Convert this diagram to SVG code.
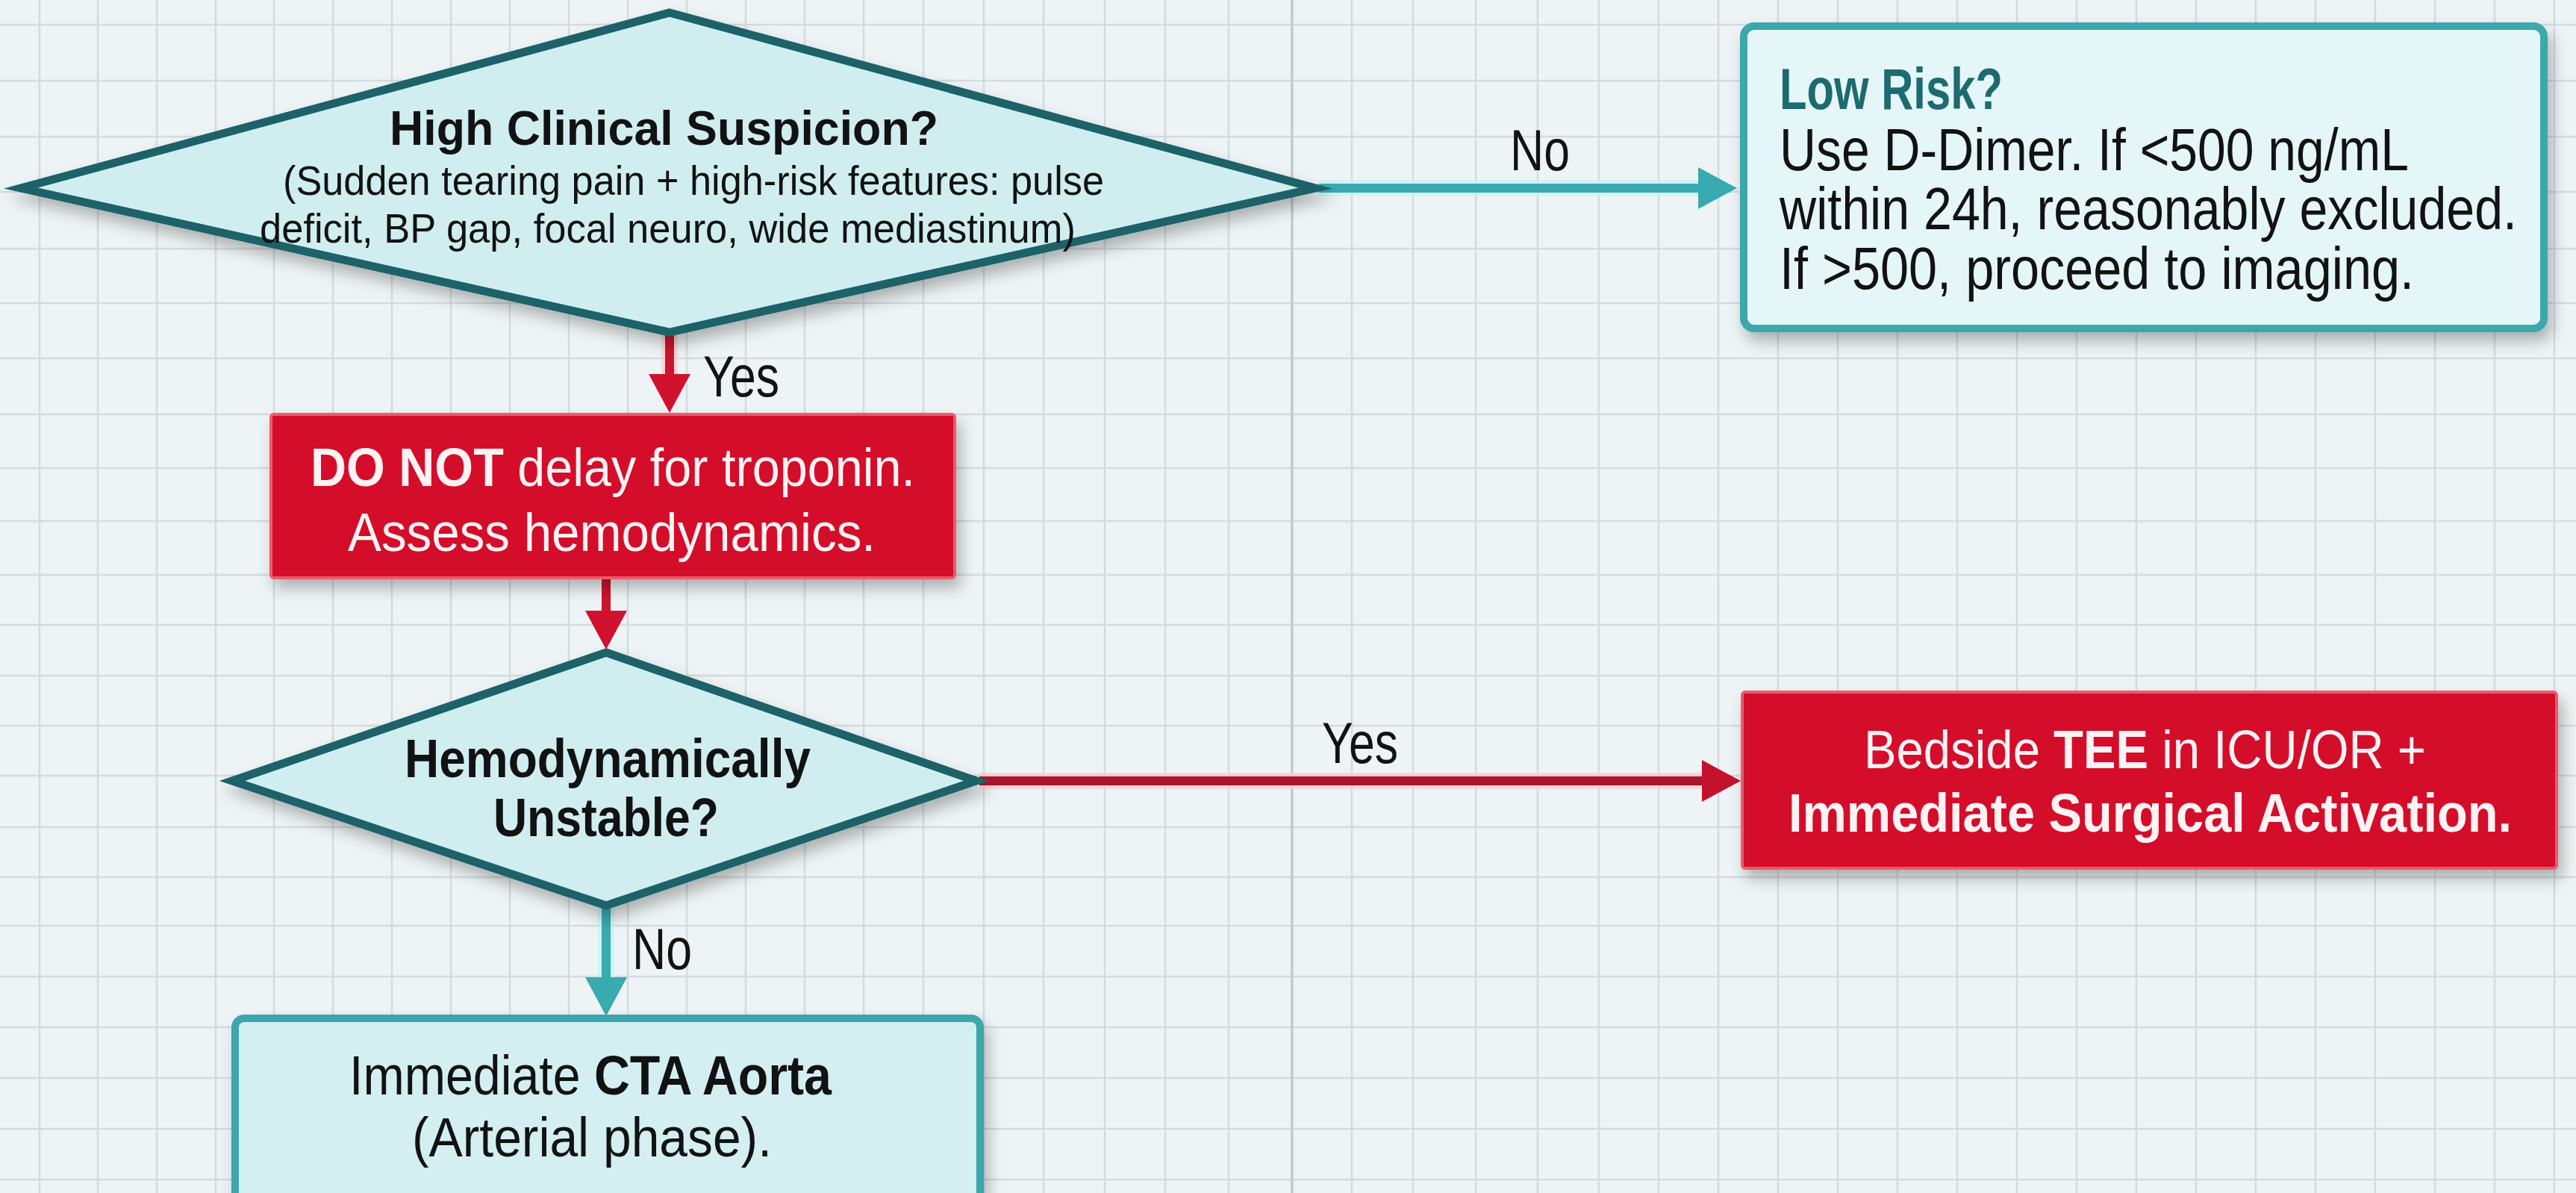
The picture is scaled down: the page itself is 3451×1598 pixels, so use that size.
<svg xmlns="http://www.w3.org/2000/svg" width="3451" height="1598" viewBox="0 0 3451 1598">
<defs>
<style>
.t{font-family:"Liberation Sans Narrow","Liberation Sans",Arial,sans-serif;fill:#121212}
.b{font-weight:bold}
.w{fill:#fff2f3}
.lab{font-size:78px}
.dia{fill:#d0eef0;stroke:#1c6268;stroke-width:11;stroke-linejoin:miter;stroke-miterlimit:30}
.tbox{fill:#e4f6f7;stroke:#3ba8ad;stroke-width:10}
.rbox{fill:#d40d2a;stroke:#ec5a6c;stroke-width:4}
.grid{stroke:#d4dbde;stroke-width:2.5;fill:none}
.tl{stroke:#38aab0;stroke-width:12;fill:none}
.tlg{stroke:#c9f2f4;stroke-width:22;fill:none;opacity:0.7}
.rl{stroke:#cc1430;stroke-width:12;fill:none}
.rl2{stroke:#a8162f;stroke-width:12;fill:none}
.rlg{stroke:#ffc9cf;stroke-width:22;fill:none;opacity:0.7}
</style>
<filter id="sh" x="-10%" y="-10%" width="120%" height="130%">
<feDropShadow dx="6" dy="12" stdDeviation="10" flood-color="#000" flood-opacity="0.28"/>
</filter>
<marker id="ht" markerUnits="userSpaceOnUse" markerWidth="54" markerHeight="56" refX="10" refY="28" orient="auto">
<path d="M0,0 L52,28 L0,56 z" fill="#38aab0"/>
</marker>
<marker id="hr" markerUnits="userSpaceOnUse" markerWidth="54" markerHeight="56" refX="10" refY="28" orient="auto">
<path d="M0,0 L52,28 L0,56 z" fill="#d0122e"/>
</marker>
<marker id="hr2" markerUnits="userSpaceOnUse" markerWidth="54" markerHeight="56" refX="10" refY="28" orient="auto">
<path d="M0,0 L52,28 L0,56 z" fill="#c4122d"/>
</marker>
</defs>
<rect width="3451" height="1598" fill="#eef4f5"/>
<g id="grid">
<path class="grid" d="M53 0V1598M131 0V1598M210 0V1598M289 0V1598M367 0V1598M446 0V1598M525 0V1598M604 0V1598M683 0V1598M762 0V1598M841 0V1598M920 0V1598M999 0V1598M1078 0V1598M1157 0V1598M1237 0V1598M1318 0V1598M1398 0V1598M1480 0V1598M1561 0V1598M1646 0V1598M1811 0V1598M1893 0V1598M1977 0V1598M2060 0V1598M2142 0V1598M2222 0V1598M2302 0V1598M2382 0V1598M2462 0V1598M2542 0V1598M2622 0V1598M2702 0V1598M2782 0V1598M2862 0V1598M2942 0V1598M3022 0V1598M3102 0V1598M3182 0V1598M3262 0V1598M3342 0V1598M3422 0V1598"/>
<path class="grid" d="M0 33H3451M0 108H3451M0 183H3451M0 257H3451M0 333H3451M0 406H3451M0 480H3451M0 555H3451M0 627H3451M0 698H3451M0 770H3451M0 837H3451M0 905H3451M0 972H3451M0 1039H3451M0 1108H3451M0 1175H3451M0 1240H3451M0 1308H3451M0 1376H3451M0 1444H3451M0 1512H3451M0 1580H3451"/>
<path d="M1731 0V1598" stroke="#c3cacd" stroke-width="3.5"/>
</g>
<g id="connectors">
<path class="tlg" d="M1767 252H2290"/>
<path class="tl" d="M1767 252H2285" marker-end="url(#ht)"/>
<path class="rlg" d="M897 447V515"/>
<path class="rl" d="M897 447V511" marker-end="url(#hr)"/>
<path class="rl" d="M812 775V828" marker-end="url(#hr)"/>
<path class="rlg" d="M1312 1046H2292"/>
<path class="rl2" d="M1312 1046H2290" marker-end="url(#hr2)"/>
<path class="tlg" d="M812 1215V1322"/>
<path class="tl" d="M812 1215V1319" marker-end="url(#ht)"/>
<text class="t lab" x="2023" y="228" textLength="80" lengthAdjust="spacingAndGlyphs">No</text>
<text class="t lab" x="942" y="531" textLength="102" lengthAdjust="spacingAndGlyphs">Yes</text>
<text class="t lab" x="1771" y="1022" textLength="102" lengthAdjust="spacingAndGlyphs">Yes</text>
<text class="t lab" x="847" y="1298" textLength="80" lengthAdjust="spacingAndGlyphs">No</text>
</g>
<g id="n1">
<polygon class="dia" filter="url(#sh)" points="897,17 1762,252 897,445 28,252"/>
<text class="t b" x="522" y="194" font-size="64" textLength="735" lengthAdjust="spacingAndGlyphs">High Clinical Suspicion?</text>
<text class="t" x="379" y="261" font-size="56" textLength="1100" lengthAdjust="spacingAndGlyphs">(Sudden tearing pain + high-risk features: pulse</text>
<text class="t" x="348" y="325" font-size="56" textLength="1093" lengthAdjust="spacingAndGlyphs">deficit, BP gap, focal neuro, wide mediastinum)</text>
</g>
<g id="n2">
<rect class="tbox" filter="url(#sh)" x="2336" y="35" width="1072" height="405" rx="14"/>
<text class="t b" x="2384" y="146" font-size="78" style="fill:#1d6a70" textLength="299" lengthAdjust="spacingAndGlyphs">Low Risk?</text>
<text class="t" x="2384" y="228" font-size="80" textLength="843" lengthAdjust="spacingAndGlyphs">Use D-Dimer. If &lt;500 ng/mL</text>
<text class="t" x="2384" y="307" font-size="80" textLength="988" lengthAdjust="spacingAndGlyphs">within 24h, reasonably excluded.</text>
<text class="t" x="2384" y="387" font-size="80" textLength="850" lengthAdjust="spacingAndGlyphs">If &gt;500, proceed to imaging.</text>
</g>
<g id="n3">
<rect class="rbox" filter="url(#sh)" x="363" y="555" width="916" height="219" rx="4"/>
<text class="t w" x="416" y="651" font-size="72" textLength="810" lengthAdjust="spacingAndGlyphs"><tspan class="b">DO NOT</tspan> delay for troponin.</text>
<text class="t w" x="466" y="738" font-size="72" textLength="707" lengthAdjust="spacingAndGlyphs">Assess hemodynamics.</text>
</g>
<g id="n4">
<polygon class="dia" filter="url(#sh)" points="812,874 1308,1046 812,1213 311,1046"/>
<text class="t b" x="542" y="1041" font-size="72" textLength="544" lengthAdjust="spacingAndGlyphs">Hemodynamically</text>
<text class="t b" x="661" y="1120" font-size="72" textLength="302" lengthAdjust="spacingAndGlyphs">Unstable?</text>
</g>
<g id="n5">
<rect class="rbox" filter="url(#sh)" x="2334" y="927" width="1091" height="236" rx="4"/>
<text class="t w" x="2497" y="1029" font-size="72" textLength="753" lengthAdjust="spacingAndGlyphs">Bedside <tspan class="b">TEE</tspan> in ICU/OR +</text>
<text class="t w b" x="2396" y="1114" font-size="72" textLength="969" lengthAdjust="spacingAndGlyphs">Immediate Surgical Activation.</text>
</g>
<g id="n6">
<rect class="tbox" filter="url(#sh)" x="315" y="1364" width="998" height="260" rx="12" style="fill:#d3eff1"/>
<text class="t" x="468" y="1466" font-size="74" textLength="646" lengthAdjust="spacingAndGlyphs">Immediate <tspan class="b">CTA Aorta</tspan></text>
<text class="t" x="552" y="1549" font-size="74" textLength="482" lengthAdjust="spacingAndGlyphs">(Arterial phase).</text>
</g>
</svg>
